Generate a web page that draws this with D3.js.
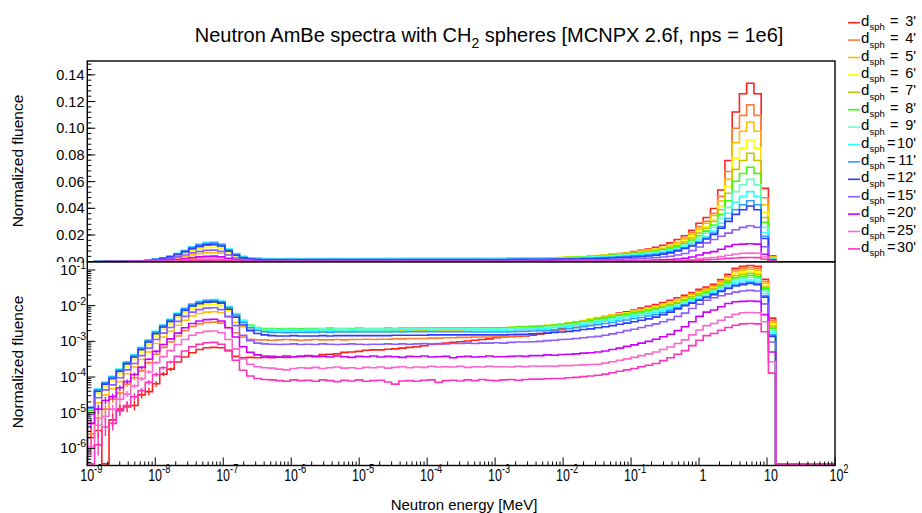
<!DOCTYPE html>
<html><head><meta charset="utf-8">
<script src="https://cdn.jsdelivr.net/npm/d3@7"></script>
<style>
body{margin:0;background:#fff}
svg{display:block}
text{font-family:"Liberation Sans",Arial,Helvetica,sans-serif;fill:#000}
</style>
</head><body>
<svg id="c" width="922" height="513"></svg>
<script>
// ---------------- data ----------------
const sphereLabels = ["3'","4'","5'","6'","7'","8'","9'","10'","11'","12'","15'","20'","25'","30'"];
const lineColors = ["#ff2020","#ff7d3c","#ffbd00","#ffff00","#c3c300","#36ff00","#66ffcc","#33ffff","#3399ff","#2b3bff","#8b5cff","#cc00ff","#ff66cc","#ff33bb"];

// histogram binning (95 log bins), then empty up to 100 MeV
const energyLow = 1e-9, energyHigh = 13.4, nBins = 95, energyMax = 100;

// log10 of normalized fluence per bin (null = empty bin)
const lg3 = [-5.70,-5.50,null,-5.20,-4.90,-4.84,-4.80,-4.50,-4.41,-4.19,
-3.92,-3.78,-3.58,-3.44,-3.32,-3.23,-3.18,-3.17,-3.18,-3.25,
-3.42,-3.46,-3.45,-3.46,-3.45,-3.46,-3.44,-3.45,-3.43,-3.42,
-3.41,-3.41,-3.37,-3.36,-3.35,-3.31,-3.30,-3.28,-3.25,-3.24,
-3.24,-3.22,-3.21,-3.19,-3.17,-3.15,-3.12,-3.09,-3.07,-3.05,
-3.03,-3.01,-2.99,-2.97,-2.95,-2.93,-2.90,-2.88,-2.87,-2.86,
-2.85,-2.83,-2.80,-2.75,-2.69,-2.63,-2.57,-2.52,-2.46,-2.40,
-2.35,-2.30,-2.26,-2.21,-2.17,-2.12,-2.07,-2.02,-1.97,-1.91,
-1.85,-1.78,-1.71,-1.63,-1.54,-1.48,-1.40,-1.27,-1.12,-0.95,
-0.90,-0.874,-0.90,-1.26,-2.35];
const lg4 = [-5.60,-5.15,-4.90,-4.62,-4.45,-4.20,-4.02,-3.82,-3.60,-3.36,
-3.17,-3.02,-2.85,-2.70,-2.58,-2.51,-2.47,-2.46,-2.49,-2.61,
-2.76,-2.88,-2.94,-2.96,-2.96,-2.97,-2.96,-2.95,-2.96,-2.97,
-2.96,-2.95,-2.96,-2.96,-2.95,-2.96,-2.95,-2.95,-2.94,-2.95,
-2.94,-2.94,-2.93,-2.93,-2.92,-2.92,-2.92,-2.91,-2.91,-2.90,
-2.90,-2.89,-2.89,-2.88,-2.88,-2.88,-2.87,-2.86,-2.85,-2.84,
-2.82,-2.80,-2.78,-2.75,-2.72,-2.68,-2.64,-2.60,-2.55,-2.50,
-2.45,-2.41,-2.36,-2.32,-2.27,-2.22,-2.17,-2.12,-2.06,-2.00,
-1.93,-1.85,-1.75,-1.66,-1.58,-1.52,-1.44,-1.31,-1.17,-1.00,
-0.96,-0.93,-0.96,-1.32,-2.41];
const lg5 = [-5.30,-4.72,-4.50,-4.33,-4.13,-3.91,-3.72,-3.51,-3.30,-3.06,
-2.88,-2.72,-2.55,-2.41,-2.29,-2.22,-2.18,-2.17,-2.20,-2.32,
-2.47,-2.59,-2.66,-2.70,-2.72,-2.73,-2.73,-2.72,-2.74,-2.73,
-2.73,-2.72,-2.73,-2.72,-2.72,-2.71,-2.72,-2.71,-2.71,-2.71,
-2.71,-2.70,-2.70,-2.70,-2.69,-2.70,-2.69,-2.69,-2.68,-2.68,
-2.68,-2.68,-2.67,-2.67,-2.66,-2.66,-2.66,-2.65,-2.64,-2.62,
-2.61,-2.60,-2.59,-2.57,-2.55,-2.53,-2.50,-2.46,-2.43,-2.38,
-2.34,-2.31,-2.27,-2.24,-2.20,-2.16,-2.11,-2.07,-2.02,-1.97,
-1.91,-1.84,-1.77,-1.69,-1.61,-1.54,-1.46,-1.34,-1.21,-1.05,
-1.01,-0.98,-1.01,-1.37,-2.46];
const lg6 = [-5.00,-4.47,-4.27,-4.11,-3.91,-3.70,-3.51,-3.30,-3.09,-2.85,
-2.67,-2.51,-2.34,-2.20,-2.08,-2.01,-1.97,-1.96,-2.00,-2.14,
-2.32,-2.49,-2.60,-2.66,-2.69,-2.69,-2.70,-2.69,-2.69,-2.70,
-2.69,-2.69,-2.68,-2.69,-2.68,-2.68,-2.68,-2.67,-2.68,-2.68,
-2.68,-2.67,-2.67,-2.67,-2.66,-2.66,-2.66,-2.66,-2.65,-2.65,
-2.65,-2.65,-2.64,-2.64,-2.64,-2.63,-2.63,-2.62,-2.61,-2.60,
-2.59,-2.58,-2.57,-2.55,-2.53,-2.51,-2.48,-2.45,-2.41,-2.37,
-2.33,-2.30,-2.27,-2.23,-2.20,-2.16,-2.12,-2.08,-2.04,-1.99,
-1.94,-1.88,-1.81,-1.72,-1.64,-1.58,-1.50,-1.38,-1.25,-1.11,
-1.07,-1.04,-1.07,-1.43,-2.52];
const lg7 = [-4.93,-4.41,-4.21,-4.05,-3.85,-3.64,-3.45,-3.24,-3.03,-2.79,
-2.61,-2.45,-2.28,-2.14,-2.02,-1.95,-1.91,-1.90,-1.94,-2.08,
-2.26,-2.43,-2.55,-2.62,-2.66,-2.66,-2.67,-2.66,-2.66,-2.67,
-2.66,-2.66,-2.65,-2.66,-2.65,-2.66,-2.65,-2.65,-2.65,-2.65,
-2.65,-2.64,-2.65,-2.64,-2.64,-2.64,-2.64,-2.63,-2.63,-2.63,
-2.63,-2.63,-2.63,-2.62,-2.63,-2.62,-2.62,-2.62,-2.61,-2.60,
-2.59,-2.58,-2.57,-2.56,-2.54,-2.52,-2.49,-2.46,-2.43,-2.39,
-2.35,-2.32,-2.29,-2.25,-2.22,-2.18,-2.15,-2.11,-2.07,-2.02,
-1.97,-1.91,-1.83,-1.75,-1.67,-1.60,-1.52,-1.41,-1.29,-1.16,
-1.12,-1.09,-1.12,-1.48,-2.57];
const lg8 = [-4.92,-4.37,-4.17,-4.01,-3.81,-3.60,-3.41,-3.20,-2.99,-2.75,
-2.57,-2.41,-2.24,-2.10,-1.98,-1.91,-1.87,-1.86,-1.90,-2.05,
-2.24,-2.42,-2.55,-2.61,-2.64,-2.64,-2.65,-2.64,-2.64,-2.65,
-2.64,-2.64,-2.64,-2.63,-2.64,-2.64,-2.64,-2.63,-2.64,-2.64,
-2.64,-2.63,-2.64,-2.63,-2.63,-2.63,-2.63,-2.63,-2.62,-2.62,
-2.62,-2.62,-2.62,-2.62,-2.62,-2.62,-2.62,-2.62,-2.61,-2.60,
-2.60,-2.59,-2.58,-2.57,-2.55,-2.53,-2.50,-2.47,-2.45,-2.41,
-2.38,-2.35,-2.32,-2.28,-2.25,-2.21,-2.18,-2.14,-2.10,-2.05,
-2.00,-1.94,-1.87,-1.79,-1.71,-1.64,-1.56,-1.45,-1.34,-1.22,
-1.18,-1.15,-1.18,-1.53,-2.63];
const lg9 = [-4.90,-4.35,-4.15,-3.99,-3.79,-3.58,-3.39,-3.18,-2.97,-2.73,
-2.55,-2.39,-2.22,-2.08,-1.96,-1.89,-1.85,-1.84,-1.88,-2.03,
-2.23,-2.42,-2.56,-2.62,-2.66,-2.66,-2.67,-2.66,-2.66,-2.67,
-2.66,-2.66,-2.65,-2.66,-2.65,-2.65,-2.66,-2.65,-2.65,-2.65,
-2.65,-2.65,-2.64,-2.65,-2.64,-2.64,-2.65,-2.64,-2.64,-2.64,
-2.64,-2.64,-2.65,-2.64,-2.65,-2.65,-2.65,-2.65,-2.64,-2.63,
-2.63,-2.62,-2.61,-2.60,-2.58,-2.56,-2.54,-2.51,-2.48,-2.45,
-2.42,-2.39,-2.36,-2.32,-2.29,-2.25,-2.22,-2.18,-2.14,-2.09,
-2.04,-1.98,-1.90,-1.83,-1.75,-1.67,-1.59,-1.49,-1.39,-1.28,
-1.24,-1.21,-1.24,-1.59,-2.69];
const lg10 = [-4.88,-4.34,-4.14,-3.98,-3.78,-3.57,-3.38,-3.17,-2.96,-2.72,
-2.54,-2.38,-2.21,-2.07,-1.95,-1.88,-1.84,-1.83,-1.87,-2.02,
-2.22,-2.42,-2.56,-2.63,-2.68,-2.69,-2.69,-2.70,-2.69,-2.69,
-2.69,-2.69,-2.68,-2.69,-2.68,-2.68,-2.69,-2.68,-2.68,-2.68,
-2.68,-2.68,-2.68,-2.67,-2.68,-2.67,-2.67,-2.68,-2.67,-2.67,
-2.67,-2.67,-2.68,-2.68,-2.68,-2.69,-2.69,-2.69,-2.68,-2.67,
-2.67,-2.66,-2.65,-2.64,-2.62,-2.60,-2.58,-2.56,-2.53,-2.50,
-2.47,-2.44,-2.41,-2.37,-2.34,-2.30,-2.27,-2.23,-2.19,-2.14,
-2.09,-2.03,-1.95,-1.87,-1.79,-1.72,-1.64,-1.54,-1.44,-1.35,
-1.31,-1.28,-1.31,-1.66,-2.76];
const lg11 = [-4.86,-4.36,-4.16,-4.00,-3.80,-3.59,-3.40,-3.19,-2.98,-2.74,
-2.56,-2.40,-2.23,-2.09,-1.97,-1.90,-1.86,-1.85,-1.89,-2.05,
-2.26,-2.47,-2.62,-2.69,-2.73,-2.75,-2.75,-2.76,-2.75,-2.75,
-2.75,-2.75,-2.74,-2.75,-2.74,-2.74,-2.74,-2.74,-2.74,-2.74,
-2.74,-2.74,-2.73,-2.74,-2.73,-2.73,-2.73,-2.73,-2.73,-2.73,
-2.73,-2.73,-2.73,-2.74,-2.74,-2.74,-2.74,-2.74,-2.73,-2.72,
-2.72,-2.71,-2.70,-2.69,-2.68,-2.66,-2.64,-2.62,-2.59,-2.56,
-2.53,-2.50,-2.47,-2.43,-2.40,-2.36,-2.33,-2.29,-2.25,-2.19,
-2.13,-2.06,-1.98,-1.91,-1.83,-1.75,-1.67,-1.58,-1.49,-1.41,
-1.37,-1.34,-1.37,-1.72,-2.82];
const lg12 = [-4.85,-4.40,-4.20,-4.04,-3.84,-3.63,-3.44,-3.23,-3.02,-2.78,
-2.60,-2.44,-2.27,-2.13,-2.01,-1.94,-1.90,-1.89,-1.93,-2.10,
-2.32,-2.54,-2.70,-2.78,-2.82,-2.84,-2.85,-2.85,-2.84,-2.85,
-2.85,-2.85,-2.84,-2.85,-2.84,-2.84,-2.84,-2.84,-2.84,-2.84,
-2.84,-2.84,-2.83,-2.83,-2.83,-2.83,-2.83,-2.82,-2.82,-2.82,
-2.82,-2.82,-2.82,-2.82,-2.82,-2.82,-2.82,-2.82,-2.81,-2.80,
-2.80,-2.79,-2.78,-2.77,-2.75,-2.74,-2.72,-2.70,-2.67,-2.65,
-2.62,-2.59,-2.56,-2.52,-2.49,-2.45,-2.41,-2.37,-2.32,-2.25,
-2.18,-2.09,-2.00,-1.93,-1.85,-1.77,-1.69,-1.60,-1.52,-1.45,
-1.41,-1.38,-1.41,-1.76,-2.86];
const lg15 = [-5.05,-4.58,-4.36,-4.22,-4.02,-3.80,-3.62,-3.40,-3.19,-2.95,
-2.77,-2.61,-2.44,-2.30,-2.18,-2.11,-2.07,-2.06,-2.11,-2.30,
-2.56,-2.83,-2.98,-3.05,-3.07,-3.08,-3.09,-3.08,-3.07,-3.09,
-3.08,-3.09,-3.07,-3.08,-3.09,-3.08,-3.07,-3.08,-3.09,-3.08,
-3.08,-3.07,-3.08,-3.07,-3.08,-3.07,-3.06,-3.07,-3.06,-3.07,
-3.06,-3.06,-3.05,-3.06,-3.05,-3.05,-3.04,-3.05,-3.03,-3.02,
-3.02,-3.01,-3.00,-2.98,-2.97,-2.95,-2.94,-2.92,-2.90,-2.88,
-2.86,-2.83,-2.79,-2.75,-2.70,-2.66,-2.61,-2.56,-2.51,-2.45,
-2.39,-2.30,-2.21,-2.08,-1.96,-1.85,-1.78,-1.72,-1.67,-1.62,
-1.59,-1.57,-1.59,-1.95,-3.02];
const lg20 = [-5.30,-4.90,-4.66,-4.55,-4.30,-4.13,-3.93,-3.73,-3.50,-3.28,
-3.09,-2.93,-2.77,-2.62,-2.50,-2.43,-2.39,-2.38,-2.43,-2.62,
-2.88,-3.15,-3.31,-3.38,-3.41,-3.42,-3.44,-3.41,-3.43,-3.42,
-3.40,-3.43,-3.42,-3.44,-3.41,-3.43,-3.45,-3.42,-3.43,-3.41,
-3.44,-3.42,-3.43,-3.45,-3.42,-3.43,-3.41,-3.44,-3.43,-3.42,
-3.46,-3.43,-3.42,-3.44,-3.43,-3.41,-3.43,-3.43,-3.42,-3.41,
-3.42,-3.40,-3.40,-3.38,-3.39,-3.37,-3.36,-3.35,-3.33,-3.32,
-3.30,-3.27,-3.23,-3.19,-3.14,-3.10,-3.05,-3.00,-2.94,-2.87,
-2.80,-2.70,-2.59,-2.45,-2.30,-2.18,-2.12,-2.03,-1.94,-1.89,
-1.88,-1.87,-1.88,-2.25,-3.30];
const lg25 = [-5.95,-5.35,-5.10,-4.90,-4.62,-4.48,-4.25,-4.05,-3.86,-3.60,
-3.43,-3.26,-3.09,-2.95,-2.83,-2.76,-2.72,-2.71,-2.76,-2.95,
-3.21,-3.49,-3.64,-3.71,-3.74,-3.75,-3.78,-3.80,-3.76,-3.74,
-3.75,-3.73,-3.76,-3.74,-3.72,-3.75,-3.74,-3.76,-3.73,-3.74,
-3.72,-3.75,-3.73,-3.71,-3.74,-3.72,-3.73,-3.70,-3.72,-3.71,
-3.72,-3.70,-3.73,-3.71,-3.72,-3.70,-3.71,-3.71,-3.72,-3.70,
-3.71,-3.69,-3.70,-3.69,-3.70,-3.68,-3.68,-3.67,-3.66,-3.65,
-3.64,-3.61,-3.57,-3.53,-3.49,-3.45,-3.40,-3.35,-3.30,-3.23,
-3.16,-3.06,-2.96,-2.82,-2.68,-2.56,-2.50,-2.41,-2.32,-2.24,
-2.20,-2.19,-2.20,-2.45,-3.57];
const lg30 = [null,-5.90,-5.40,-5.30,-4.95,-4.80,-4.55,-4.38,-4.15,-3.93,
-3.74,-3.58,-3.42,-3.27,-3.15,-3.08,-3.04,-3.03,-3.08,-3.27,
-3.53,-3.81,-3.97,-4.04,-4.07,-4.08,-4.10,-4.12,-4.08,-4.10,
-4.09,-4.12,-4.08,-4.10,-4.13,-4.09,-4.11,-4.08,-4.12,-4.10,
-4.09,-4.14,-4.20,-4.11,-4.10,-4.12,-4.09,-4.08,-4.15,-4.10,
-4.09,-4.11,-4.08,-4.10,-4.07,-4.09,-4.10,-4.08,-4.07,-4.09,
-4.07,-4.06,-4.06,-4.05,-4.04,-4.04,-4.02,-4.01,-3.99,-3.97,
-3.95,-3.92,-3.88,-3.84,-3.80,-3.76,-3.71,-3.67,-3.62,-3.54,
-3.46,-3.36,-3.26,-3.12,-2.97,-2.84,-2.78,-2.69,-2.61,-2.55,
-2.51,-2.50,-2.51,-2.73,-3.89];

const seriesLog = [lg3,lg4,lg5,lg6,lg7,lg8,lg9,lg10,lg11,lg12,lg15,lg20,lg25,lg30];

// statistical error half-widths (log10 units) of the first low-energy bins, for the low-statistics spheres
const err3  = [0.25,0.20,0,0.18,0.15,0.15,0.14,0.10,0.10,0.08,0.06,0.05];
const err4  = [0.20,0.15,0.12,0.10,0.08,0.07,0.06,0.05,0.04,0.03,0.03,0.02];
const err20 = [0.15,0.12,0.10,0.08,0.07,0.06,0.05,0.04,0.03,0.03,0.02,0.02];
const err25 = [0.30,0.20,0.15,0.12,0.10,0.09,0.07,0.06,0.05,0.04,0.03,0.03];
const err30 = [0,0.30,0.25,0.20,0.15,0.12,0.10,0.08,0.07,0.06,0.05,0.04];
const errSeries = [err3,err4,null,null,null,null,null,null,null,null,null,err20,err25,err30];

// tick labels
const yTopTicks = [0,0.02,0.04,0.06,0.08,0.10,0.12,0.14];
const yTopLabels = ["0.00","0.02","0.04","0.06","0.08","0.10","0.12","0.14"];
const yBotTickExp = [-6,-5,-4,-3,-2,-1];
const xTickExp = [-9,-8,-7,-6,-5,-4,-3,-2,-1,0,1,2];
const xTickBase = ["10","10","10","10","10","10","10","10","10","1","10","10"];
const xTickSup  = ["-9","-8","-7","-6","-5","-4","-3","-2","-1","","","2"];

// ---------------- layout ----------------
const svg = d3.select("#c");
const fx0 = 87.3, fx1 = 835;
const tY0 = 61, tY1 = 262, bY0 = 262, bY1 = 465.5;

const x = d3.scaleLog().domain([1e-9, energyMax]).range([fx0, fx1]);
const yTop = d3.scaleLinear().domain([0, 0.15]).range([261.7, 61.5]);
const yBot = d3.scaleLog().domain([Math.pow(10,-6.48), Math.pow(10,-0.776)]).range([bY1, bY0]);

const edges = d3.range(nBins + 1).map(k => energyLow * Math.pow(energyHigh / energyLow, k / nBins));

const defs = svg.append("defs");
defs.append("clipPath").attr("id","clipTop").append("rect")
  .attr("x",fx0).attr("y",tY0).attr("width",fx1-fx0).attr("height",tY1-tY0+1);
defs.append("clipPath").attr("id","clipBot").append("rect")
  .attr("x",fx0).attr("y",bY0).attr("width",fx1-fx0).attr("height",bY1-bY0);

// outline starts at the axis floor at the first edge, like a ROOT histogram
function histPoints(arr){
  const pts = [{e:edges[0], v:0}];
  arr.forEach((v,i)=>pts.push({e:edges[i], v: v===null?0:Math.pow(10,v)}));
  pts.push({e:edges[nBins], v:0});
  pts.push({e:energyMax, v:0});
  return pts;
}

// ---------- top panel ----------
const gTop = svg.append("g");
const lineTop = d3.line().x(d=>x(d.e)).y(d=>yTop(d.v)).curve(d3.curveStepAfter);
const gTopS = gTop.append("g").attr("clip-path","url(#clipTop)");
seriesLog.forEach((arr,i)=>{
  gTopS.append("path").attr("d", lineTop(histPoints(arr)))
    .attr("fill","none").attr("stroke", lineColors[i]).attr("stroke-width",1.6);
});
d3.range(0, 0.1501, 0.004).forEach(v=>{
  gTop.append("line").attr("x1",fx0).attr("x2",fx0+4).attr("y1",yTop(v)).attr("y2",yTop(v))
    .attr("stroke","#000").attr("stroke-width",1);
});
yTopTicks.forEach((v,i)=>{
  gTop.append("line").attr("x1",fx0).attr("x2",fx0+8).attr("y1",yTop(v)).attr("y2",yTop(v))
    .attr("stroke","#000").attr("stroke-width",1);
  gTop.append("text").attr("x",84.5).attr("y",yTop(v)+5).attr("text-anchor","end")
    .attr("font-size",14.5).text(yTopLabels[i]);
});
gTop.append("rect").attr("x",fx0).attr("y",tY0).attr("width",fx1-fx0).attr("height",tY1-tY0)
  .attr("fill","none").attr("stroke","#000").attr("stroke-width",1.4);
gTop.append("text").attr("transform","translate(23,161) rotate(-90)").attr("text-anchor","middle")
  .attr("font-size",15.5).text("Normalized fluence");

// ---------- bottom panel (covers lower half of "0.00") ----------
svg.append("rect").attr("x",0).attr("y",bY0).attr("width",842).attr("height",513-bY0).attr("fill","#fff");
const gBot = svg.append("g");
const floorY = bY1 - 1.6;
const lineBot = d3.line().x(d=>x(d.e)).y(d=> d.v>0 ? yBot(d.v) : floorY).curve(d3.curveStepAfter);
const gBotS = gBot.append("g").attr("clip-path","url(#clipBot)");
seriesLog.forEach((arr,i)=>{
  gBotS.append("path").attr("d", lineBot(histPoints(arr)))
    .attr("fill","none").attr("stroke", lineColors[i]).attr("stroke-width",1.6);
  const er = errSeries[i];
  if (er) er.forEach((h,b)=>{
    if (!h || arr[b]===null) return;
    const xc = x(Math.sqrt(edges[b]*edges[b+1]));
    gBotS.append("line").attr("x1",xc).attr("x2",xc)
      .attr("y1", yBot(Math.pow(10, arr[b]-h))).attr("y2", yBot(Math.pow(10, arr[b]+h)))
      .attr("stroke", lineColors[i]).attr("stroke-width",1.4);
  });
});
for (let d=-7; d<=-1; d++){
  for (let k=1; k<=9; k++){
    const v = k*Math.pow(10,d);
    const yy = yBot(v);
    if (yy < bY0 || yy > bY1) continue;
    const len = (k===1) ? 8 : 4;
    gBot.append("line").attr("x1",fx0).attr("x2",fx0+len).attr("y1",yy).attr("y2",yy)
      .attr("stroke","#000").attr("stroke-width",1);
  }
}
yBotTickExp.forEach(e=>{
  const t = gBot.append("text").attr("x",86).attr("y",yBot(Math.pow(10,e))+5)
    .attr("text-anchor","end").attr("font-size",15);
  t.append("tspan").text("10");
  t.append("tspan").attr("dy",-6).attr("font-size",10.5).text(String(e));
});
for (let d=-9; d<=2; d++){
  for (let k=1; k<=9; k++){
    const v = k*Math.pow(10,d);
    if (v > energyMax*1.0001) continue;
    const xx = x(v);
    const len = (k===1) ? 8 : 4;
    gBot.append("line").attr("x1",xx).attr("x2",xx).attr("y1",bY1).attr("y2",bY1-len)
      .attr("stroke","#000").attr("stroke-width",1);
  }
}
xTickExp.forEach((e,i)=>{
  const g = gBot.append("g").attr("transform",`translate(${x(Math.pow(10,e))+4},481) scale(0.78,1)`);
  const t = g.append("text").attr("x",0).attr("y",0).attr("text-anchor","middle").attr("font-size",16);
  t.append("tspan").text(xTickBase[i]);
  if (xTickSup[i]) t.append("tspan").attr("dy",-8).attr("font-size",12).text(xTickSup[i]);
});
gBot.append("rect").attr("x",fx0).attr("y",bY0).attr("width",fx1-fx0).attr("height",bY1-bY0)
  .attr("fill","none").attr("stroke","#000").attr("stroke-width",1.4);
gBot.append("text").attr("transform","translate(23,362) rotate(-90)").attr("text-anchor","middle")
  .attr("font-size",15.5).text("Normalized fluence");
gBot.append("text").attr("x",464).attr("y",510).attr("text-anchor","middle")
  .attr("font-size",15).text("Neutron energy [MeV]");

// ---------- title ----------
const title = svg.append("text").attr("x",489).attr("y",42).attr("text-anchor","middle").attr("font-size",20);
title.append("tspan").text("Neutron AmBe spectra with CH");
title.append("tspan").attr("dy",6).attr("font-size",14).text("2");
title.append("tspan").attr("dy",-6).text(" spheres [MCNPX 2.6f, nps = 1e6]");

// ---------- legend ----------
const gLeg = svg.append("g");
sphereLabels.forEach((lab,i)=>{
  const cy = 22.7 + i*17.4;
  gLeg.append("line").attr("x1",848).attr("x2",860).attr("y1",cy).attr("y2",cy)
    .attr("stroke",lineColors[i]).attr("stroke-width",1.6);
  gLeg.append("text").attr("x",861).attr("y",cy+3).attr("font-size",15).text("d");
  gLeg.append("text").attr("x",869.5).attr("y",cy+7.5).attr("font-size",9.5).text("sph");
  gLeg.append("text").attr("x", lab.length>2 ? 887 : 890).attr("y",cy+3).attr("font-size",14.5).text("=");
  gLeg.append("text").attr("x",916).attr("y",cy+3).attr("text-anchor","end").attr("font-size",14.5).text(lab);
});
</script>
</body></html>
